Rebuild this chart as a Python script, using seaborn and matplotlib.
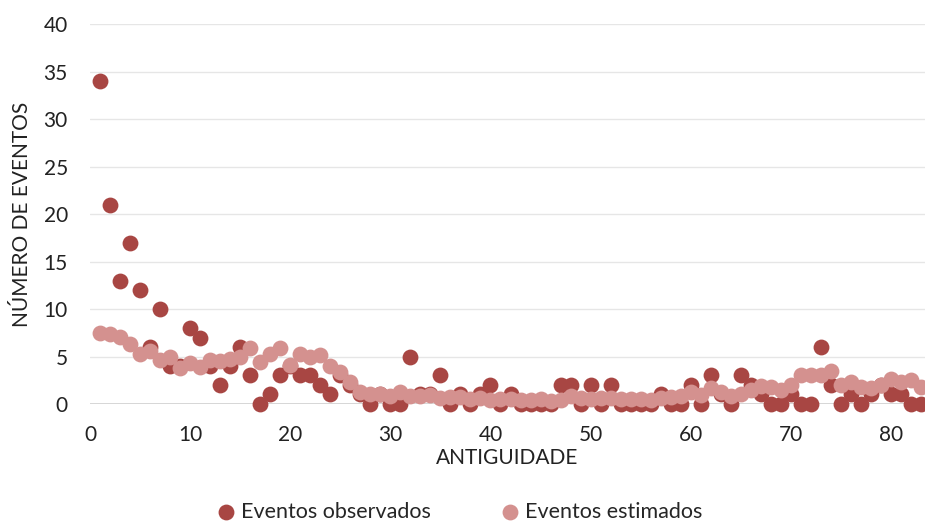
import numpy as np
import pandas as pd
import matplotlib
matplotlib.use("Agg")
import matplotlib.pyplot as plt
import seaborn as sns

# antiguidade 1..83
antiguidade = list(range(1, 84))

eventos_observados = [
    34, 21, 13, 17, 12, 6, 10, 4, 4, 8,
    7, 4, 2, 4, 6, 3, 0, 1, 3, 4,
    3, 3, 2, 1, 3, 2, 1, 0, 1, 0,
    0, 5, 1, 1, 3, 0, 1, 0, 1, 2,
    0, 1, 0, 0, 0, 0, 2, 2, 0, 2,
    0, 2, 0, 0, 0, 0, 1, 0, 0, 2,
    0, 3, 1, 0, 3, 2, 1, 0, 0, 1,
    0, 0, 6, 2, 0, 1, 0, 1, 2, 1,
    1, 0, 0,
]

eventos_estimados = [
    7.5, 7.4, 7.1, 6.3, 5.3, 5.6, 4.6, 4.9, 3.8, 4.3,
    3.9, 4.6, 4.5, 4.7, 5.0, 5.9, 4.4, 5.3, 5.9, 4.1,
    5.3, 5.0, 5.2, 4.0, 3.4, 2.3, 1.3, 1.1, 1.1, 0.8,
    1.3, 0.8, 0.8, 0.9, 0.6, 0.7, 0.7, 0.5, 0.6, 0.4,
    0.5, 0.5, 0.4, 0.4, 0.5, 0.3, 0.4, 0.8, 0.6, 0.5,
    0.6, 0.6, 0.5, 0.5, 0.5, 0.4, 0.6, 0.7, 0.8, 1.3,
    0.95, 1.65, 1.3, 0.8, 1.1, 1.5, 1.9, 1.75, 1.5, 2.0,
    3.05, 3.0, 3.05, 3.5, 2.0, 2.35, 1.75, 1.65, 2.0, 2.6,
    2.35, 2.5, 1.8,
]

cor_obs = "#A84643"
cor_est = "#D4918F"

sns.set_theme(style="white")
plt.rcParams["font.family"] = ["Lato", "DejaVu Sans"]

df = pd.DataFrame({
    "antiguidade": antiguidade,
    "observados": eventos_observados,
    "estimados": eventos_estimados,
})

fig = plt.figure(figsize=(9.25, 5.25), dpi=100)
ax = fig.add_axes([0.0973, 0.2305, 0.9027, 0.7235])

# grid
for v in range(5, 45, 5):
    ax.axhline(v, color="#E6E6E6", lw=1.0, zorder=0)
ax.axhline(0, color="#D0D0D0", lw=1.2, zorder=0)

sns.scatterplot(data=df, x="antiguidade", y="observados", ax=ax,
                color=cor_obs, s=130, linewidth=0, clip_on=False,
                label="Eventos observados", zorder=3)
sns.scatterplot(data=df, x="antiguidade", y="estimados", ax=ax,
                color=cor_est, s=130, linewidth=0, clip_on=False,
                label="Eventos estimados", zorder=4)

ax.set_xlim(0, 83.4)
ax.set_ylim(0, 40)
ax.set_xticks(range(0, 81, 10))
ax.set_yticks(range(0, 41, 5))
ax.tick_params(axis="both", labelsize=15, colors="#222222", length=0)
ax.tick_params(axis="x", pad=15)
ax.tick_params(axis="y", pad=16)
for s in ax.spines.values():
    s.set_visible(False)

ax.set_xlabel("ANTIGUIDADE", fontsize=15, color="#222222", labelpad=2)
ax.set_ylabel("NÚMERO DE EVENTOS", fontsize=15, color="#222222", labelpad=8)

ax.legend(loc="center", bbox_to_anchor=(0.497, 0.025), bbox_transform=fig.transFigure,
          ncol=2, frameon=False, fontsize=15.5, handlelength=0.8,
          handletextpad=0.3, columnspacing=3.3, markerscale=1.0)

fig.savefig("out.png", dpi=100)
